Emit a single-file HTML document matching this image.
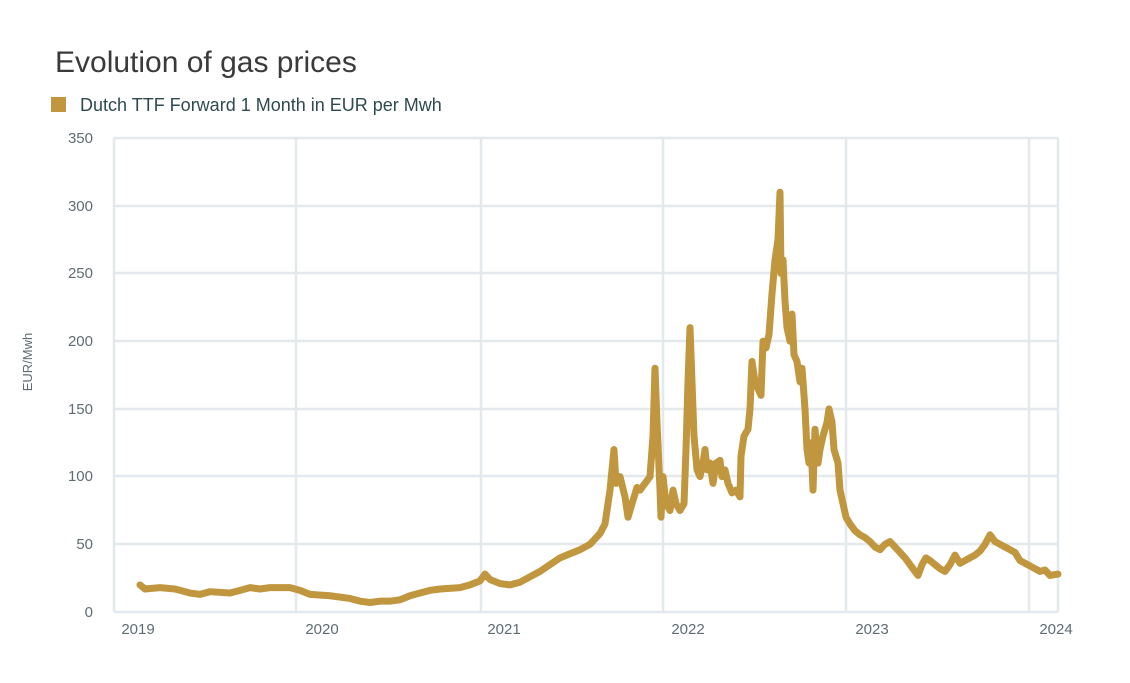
<!DOCTYPE html>
<html><head><meta charset="utf-8"><style>
body{margin:0;background:#fff;width:1130px;height:678px;overflow:hidden;font-family:"Liberation Sans",sans-serif}
</style></head><body>
<svg width="1130" height="678" xmlns="http://www.w3.org/2000/svg" font-family="Liberation Sans, sans-serif">
<text x="55" y="72" font-size="30" fill="#3a3a3a" font-weight="300">Evolution of gas prices</text>
<rect x="51" y="97" width="15" height="15" fill="#c0963f"/>
<text x="80" y="111" font-size="18" fill="#2f4a4f">Dutch TTF Forward 1 Month in EUR per Mwh</text>
<g stroke="#e4e9ed" stroke-width="2.5">
<line x1="114" y1="138" x2="1058" y2="138"/><line x1="114" y1="206" x2="1058" y2="206"/>
<line x1="114" y1="273" x2="1058" y2="273"/><line x1="114" y1="341" x2="1058" y2="341"/>
<line x1="114" y1="409" x2="1058" y2="409"/><line x1="114" y1="476" x2="1058" y2="476"/>
<line x1="114" y1="544" x2="1058" y2="544"/><line x1="114" y1="612" x2="1058" y2="612"/>
<line x1="114" y1="138" x2="114" y2="612"/><line x1="296" y1="138" x2="296" y2="612"/>
<line x1="481" y1="138" x2="481" y2="612"/><line x1="663" y1="138" x2="663" y2="612"/>
<line x1="846" y1="138" x2="846" y2="612"/><line x1="1029" y1="138" x2="1029" y2="612"/>
<line x1="1058" y1="138" x2="1058" y2="612"/>
</g>
<g font-size="15" fill="#5f6d72" text-anchor="end">
<text x="93" y="143">350</text><text x="93" y="211">300</text><text x="93" y="278">250</text>
<text x="93" y="346">200</text><text x="93" y="414">150</text><text x="93" y="481">100</text>
<text x="93" y="549">50</text><text x="93" y="617">0</text>
</g>
<g font-size="15" fill="#5f6d72" text-anchor="middle">
<text x="138" y="634">2019</text><text x="322" y="634">2020</text><text x="504" y="634">2021</text>
<text x="688" y="634">2022</text><text x="872" y="634">2023</text><text x="1056" y="634">2024</text>
</g>
<text transform="translate(32,362) rotate(-90)" font-size="13" fill="#5f6d72" text-anchor="middle">EUR/Mwh</text>
<g transform="translate(0,612) scale(1,-1.354)">
<polyline fill="none" stroke="#c0963f" stroke-width="7" vector-effect="non-scaling-stroke" stroke-linejoin="round" stroke-linecap="round" points="140,20 145,17 160,18 175,17 190,14 200,13 210,15 230,14 240,16 250,18 260,17 270,18 290,18 300,16 310,13 330,12 350,10 360,8 370,7 380,8 390,8 400,9 410,12 420,14 430,16 440,17 460,18 470,20 480,23 485,28 490,24 500,21 510,20 520,22 530,26 540,30 550,35 560,40 570,43 580,46 590,50 600,58 605,65 610,90 614,120 616,95 620,100 625,85 628,70 632,80 637,92 640,90 645,95 650,100 653,130 655,180 657,140 660,90 661,70 663,100 666,80 670,75 673,90 676,80 680,75 684,80 686,120 688,170 690,210 692,170 694,130 697,105 700,100 703,110 705,120 707,105 710,110 713,95 716,110 720,112 722,100 725,105 728,95 732,88 736,90 740,85 741,115 744,130 748,135 750,150 752,185 755,170 758,165 761,160 763,200 766,195 769,205 772,235 775,260 778,275 780,310 781,250 783,260 785,230 787,210 790,200 792,220 794,190 797,185 800,170 802,180 805,150 807,120 809,110 811,125 813,90 815,135 818,110 820,120 823,130 827,140 829,150 832,140 834,120 838,110 840,90 843,80 846,70 850,65 855,60 860,57 865,55 870,52 875,48 880,46 885,50 890,52 895,48 900,44 905,40 910,35 915,30 918,27 922,35 926,40 930,38 935,35 940,32 945,30 950,35 955,42 960,36 965,38 970,40 975,42 980,45 985,50 990,57 995,52 1000,50 1005,48 1010,46 1015,44 1020,38 1025,36 1030,34 1035,32 1040,30 1045,31 1050,27 1058,28"/>
</g>
</svg>
</body></html>
